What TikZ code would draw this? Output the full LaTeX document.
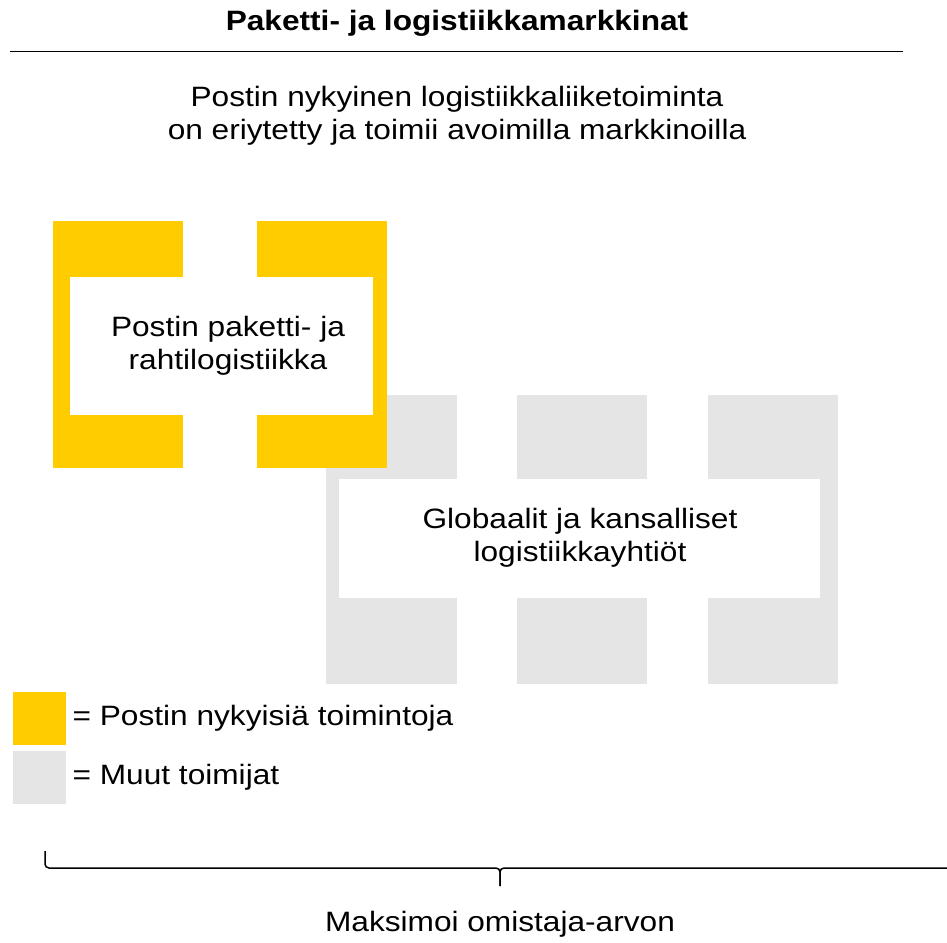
\documentclass[tikz,border=0pt]{standalone}
\usepackage{fontspec}
\setmainfont[FakeStretch=1.13]{Liberation Sans}
\usetikzlibrary{positioning}
\definecolor{postyellow}{HTML}{FFCC00}
\definecolor{othergray}{HTML}{E5E5E5}
\tikzset{
  figfont/.style={font=\fontsize{28}{33}\selectfont},
  figlabel/.style={figfont, align=center, inner sep=0pt},
  figblockyellow/.style={fill=postyellow},
  figblockgray/.style={fill=othergray},
  figgap/.style={fill=white},
  figkey/.style={minimum width=53pt, minimum height=53pt, inner sep=0pt, anchor=north west},
}

\begin{document}
\begin{tikzpicture}[x=1pt,y=-1pt]
	\useasboundingbox (0,0) rectangle (947,942);

		% Heading and rule
			\node[figlabel, font=\fontsize{28}{33}\selectfont\bfseries] (title) at (457,23) {Paketti- ja logistiikkamarkkinat};
			\draw[line width=1pt] (10,52) -- (903,52);
			\node[figlabel] (subtitle) at (457,116)
			{Postin nykyinen logistiikkaliiketoiminta\\on eriytetty ja toimii avoimilla markkinoilla};

		% Other players (gray frame)
			\fill[figblockgray] (326,395) rectangle (838,684);
			\fill[figgap] (457,395) rectangle (517,479);
			\fill[figgap] (647,395) rectangle (708,479);
			\fill[figgap] (457,598) rectangle (517,684);
			\fill[figgap] (647,598) rectangle (708,684);
			\fill[figgap] (339,479) rectangle (820,598);
			\node[figlabel] (others) at (580,538) {Globaalit ja kansalliset\\logistiikkayhtiöt};

		% Posti's own business (yellow frame, on top)
			\fill[figblockyellow] (53,221) rectangle (387,468);
			\fill[figgap] (183,221) rectangle (257,277);
			\fill[figgap] (183,415) rectangle (257,468);
			\fill[figgap] (70,277) rectangle (373,415);
			\node[figlabel] (posti) at (228,346) {Postin paketti- ja\\rahtilogistiikka};

		% Legend
			\node[figkey, figblockyellow] (keyyellow) at (13,692) {};
			\node[figkey, figblockgray] (keygray) at (13,751) {};
			\node[figfont, inner sep=0pt, right=6pt of keyyellow] (keyyellowtext) {= Postin nykyisiä toimintoja};
			\node[figfont, inner sep=0pt, right=6pt of keygray] (keygraytext) {= Muut toimijat};

		% Brace and conclusion
			\draw[line width=1.5pt, rounded corners=4pt]
			(45,851) -- (45,868) -- (500,868) -- (500,886);
			\draw[line width=1.5pt, rounded corners=4pt]
			(500,886) -- (500,868) -- (947,868);
			\node[figlabel] (result) at (500,924) {Maksimoi omistaja-arvon};
\end{tikzpicture}
\end{document}
